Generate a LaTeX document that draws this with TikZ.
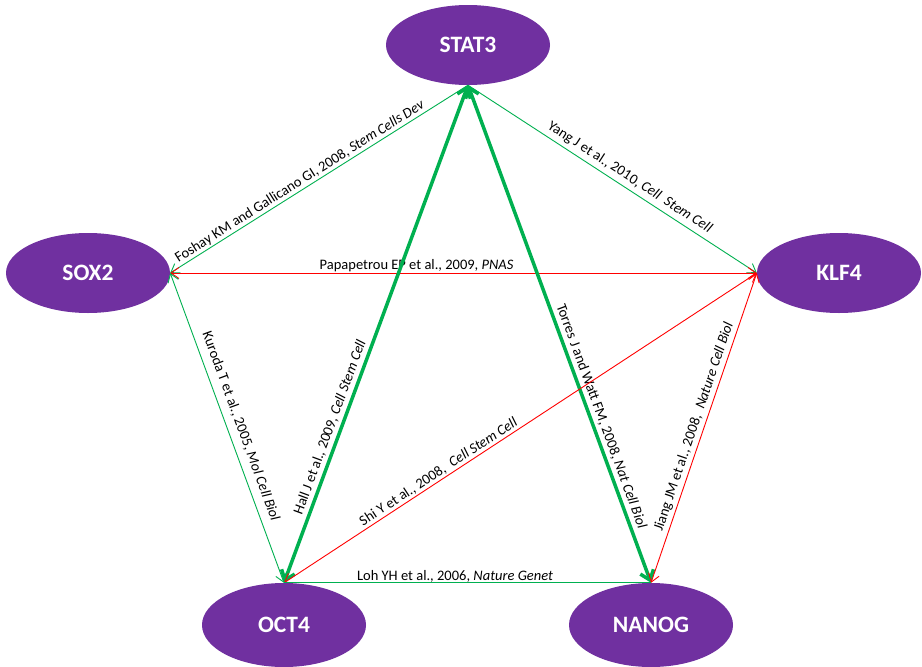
\documentclass[tikz,border=0pt]{standalone}
\usepackage{fontspec}
\setmainfont{Carlito}
\usetikzlibrary{arrows.meta,shapes.geometric}
\definecolor{gpurple}{HTML}{7030A0}
\definecolor{ggreen}{HTML}{00B050}
\definecolor{gred}{HTML}{FF0000}
\tikzset{
  tb/.tip={Straight Barb[length=8pt,width=11pt]},
  tB/.tip={Straight Barb[length=9pt,width=14pt]}
}
\begin{document}
\begin{tikzpicture}[x=1pt,y=-1pt,
  gene/.style={ellipse, fill=gpurple, draw=none, minimum width=164pt, minimum height=80pt,
    inner sep=0pt, text=white, font=\fontsize{23.5}{26}\selectfont\bfseries},
  weak/.style={line width=0.9pt},
  strong/.style={line width=3.5pt},
  lbl/.style={font=\fontsize{14.5}{16}\selectfont, sloped, above, inner sep=1.5pt, text=black}
]
\useasboundingbox[fill=white] (0,0) rectangle (922,667);

\node[gene] (stat3) at (468,45) {STAT3};
\node[gene] (sox2) at (88,273) {SOX2};
\node[gene] (klf4) at (839,273) {KLF4};
\node[gene, minimum height=84pt] (oct4) at (284,625) {OCT4};
\node[gene, minimum height=84pt] (nanog) at (651,625) {NANOG};

\draw[ggreen, weak, -tb] (stat3.south) -- node[lbl, pos=0.55] {Foshay KM and Gallicano GI, 2008, \textit{Stem Cells Dev}} (sox2.east);
\draw[ggreen, weak, -tb] (stat3.south) -- node[lbl, pos=0.54, inner sep=4pt] {Yang J et al., 2010, \textit{Cell\ \ Stem Cell}} (klf4.west);
\draw[gred, weak, tb-tb] (sox2.east) -- node[lbl, pos=0.42, inner sep=0.5pt] {Papapetrou EP et al., 2009, \textit{PNAS}} (klf4.west);
\draw[ggreen, weak, tb-tb] (sox2.east) -- node[lbl, pos=0.51, inner sep=7pt] {Kuroda T et al., 2005, \textit{Mol Cell Biol}} (oct4.north);
\draw[ggreen, strong, tB-tB] (oct4.north) -- node[lbl, pos=0.305, inner sep=3pt] {Hall J et al., 2009, \textit{Cell Stem Cell}} (stat3.south);
\draw[ggreen, strong, tB-tB] (stat3.south) -- node[lbl, pos=0.673, inner sep=3pt] {Torres J and Watt FM, 2008, \textit{Nat Cell Biol}} (nanog.north);
\draw[gred, weak, tb-tb] (oct4.north) -- node[lbl, pos=0.336] {Shi Y et al., 2008,\ \ \textit{Cell Stem Cell}} (klf4.west);
\draw[gred, weak, tb-tb] (nanog.north) -- node[lbl, pos=0.494, inner sep=3pt] {Jiang JM et al., 2008,\ \ \textit{Nature Cell Biol}} (klf4.west);
\draw[ggreen, weak] (oct4.north) -- node[lbl, pos=0.466, inner sep=0.5pt] {Loh YH et al., 2006, \textit{Nature Genet}} (nanog.north);
\end{tikzpicture}
\end{document}
